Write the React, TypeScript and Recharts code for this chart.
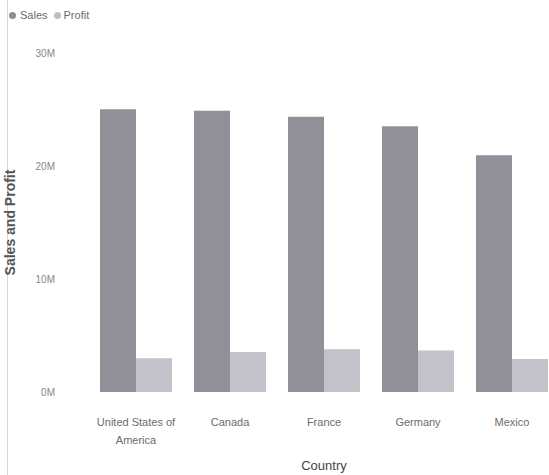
import { Bar, BarChart, Label, XAxis, YAxis } from "recharts";

const countries = ["United States of America", "Canada", "France", "Germany", "Mexico"];
const sales = [25.03, 24.89, 24.35, 23.51, 20.95];
const profit = [2.99, 3.53, 3.78, 3.68, 2.91];
const yTicks = [0, 10, 20, 30];

const SALES_COLOR = "#909098";
const PROFIT_COLOR = "#c2c2ca";

const rows = countries.map((country, i) => ({ country, sales: sales[i], profit: profit[i] }));

function wrapWords(text: string, maxChars: number) {
  const lines: string[] = [];
  let cur = "";
  for (const w of text.split(" ")) {
    const next = cur ? cur + " " + w : w;
    if (next.length > maxChars && cur) {
      lines.push(cur);
      cur = w;
    } else cur = next;
  }
  if (cur) lines.push(cur);
  return lines;
}

function CountryTick(props: any) {
  const { x, y, payload } = props;
  const lines = wrapWords(String(payload.value), 16);
  return (
    <text x={x} y={y} textAnchor="middle" fill="#6b6b6b" fontSize={11} fontFamily="'Liberation Sans', Arial, sans-serif">
      {lines.map((l, i) => (
        <tspan key={i} x={x} dy={i === 0 ? 26 : 18}>
          {l}
        </tspan>
      ))}
    </text>
  );
}

export default function App() {
  return (
    <div
      style={{
        position: "absolute",
        left: 0,
        top: 0,
        width: 549,
        height: 475,
        overflow: "hidden",
        background: "#fff",
        fontFamily: "'Liberation Sans', Arial, sans-serif",
      }}
    >
      <div style={{ position: "absolute", left: 7, top: 0, width: 1, height: 475, background: "#d8d8d8" }} />
      <div style={{ position: "absolute", left: 9, top: 9, display: "flex", alignItems: "center", fontSize: 11, color: "#6b6b6b" }}>
        <span style={{ width: 7, height: 7, borderRadius: "50%", background: "#8c8c9a", marginRight: 4 }} />
        <span style={{ marginRight: 6 }}>Sales</span>
        <span style={{ width: 7, height: 7, borderRadius: "50%", background: "#bdbdc2", marginRight: 3 }} />
        <span>Profit</span>
      </div>
      <BarChart
        width={560}
        height={475}
        data={rows}
        margin={{ top: 53, right: 1, left: 0, bottom: 0 }}
        barCategoryGap={11}
        barGap={0}
      >
        <XAxis
          dataKey="country"
          axisLine={false}
          tickLine={false}
          height={83}
          interval={0}
          tick={<CountryTick />}
        >
          <Label value="Country" position="insideBottom" offset={5} fill="#444" fontSize={13} />
        </XAxis>
        <YAxis
          width={89}
          domain={[0, 30]}
          ticks={yTicks}
          axisLine={false}
          tickLine={false}
          tickSize={0}
          tickMargin={34}
          tickFormatter={(v: number) => `${v}M`}
          tick={{ fill: "#888888", fontSize: 10 }}
        >
          <Label
            value="Sales and Profit"
            angle={-90}
            position="insideLeft"
            offset={10}
            style={{ textAnchor: "middle", fill: "#555", fontSize: 14, fontWeight: 700 }}
          />
        </YAxis>
        <Bar dataKey="sales" name="Sales" fill={SALES_COLOR} isAnimationActive={false} />
        <Bar dataKey="profit" name="Profit" fill={PROFIT_COLOR} isAnimationActive={false} />
      </BarChart>
    </div>
  );
}
